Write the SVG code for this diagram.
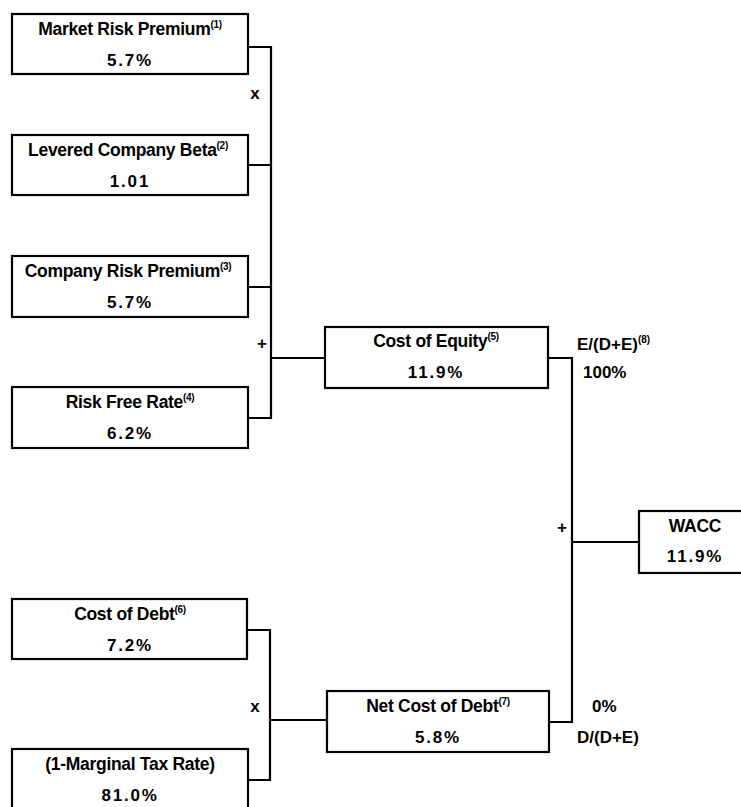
<svg xmlns="http://www.w3.org/2000/svg" width="741" height="807" viewBox="0 0 741 807">
<style>
.box{fill:#fff;stroke:#000;stroke-width:2.2}
.t{font-family:"Liberation Sans",Arial,sans-serif;font-weight:bold;font-size:17.5px;fill:#000;text-anchor:middle;letter-spacing:-0.3px}
.v{font-family:"Liberation Sans",Arial,sans-serif;font-weight:bold;font-size:17px;fill:#000;text-anchor:middle;letter-spacing:1.8px}
.s{font-size:10px}
.l{font-family:"Liberation Sans",Arial,sans-serif;font-weight:bold;font-size:17px;fill:#000}
.c{fill:none;stroke:#000;stroke-width:2.2}
</style>
<rect width="741" height="807" fill="#fff"/>
<g id="connectors">
<path class="c" d="M248,47 H271 V418 H248 M248,165 H271 M248,287 H271 M271,358 H325"/>
<path class="c" d="M548,358 H572 V722 H549 M572,542 H639"/>
<path class="c" d="M247,630 H270 V780 H248 M270,720 H327"/>
<text class="l" x="255" y="99" text-anchor="middle">x</text>
<text class="l" x="262" y="349" text-anchor="middle">+</text>
<text class="l" x="562" y="533" text-anchor="middle">+</text>
<text class="l" x="255" y="712" text-anchor="middle">x</text>
<text class="l" x="577" y="350">E/(D+E)<tspan class="s" dy="-7">(8)</tspan></text>
<text class="l" x="583" y="378">100%</text>
<text class="l" x="592" y="712">0%</text>
<text class="l" x="577" y="743">D/(D+E)</text>
</g>
<g id="market-risk-premium">
<rect class="box" x="12" y="14" width="236" height="60"/>
<text class="t" x="130" y="35">Market Risk Premium<tspan class="s" dy="-7">(1)</tspan></text>
<text class="v" x="130" y="66">5.7%</text>
</g>
<g id="levered-beta">
<rect class="box" x="12" y="135" width="236" height="60"/>
<text class="t" x="128" y="156">Levered Company Beta<tspan class="s" dy="-7">(2)</tspan></text>
<text class="v" x="130" y="187">1.01</text>
</g>
<g id="company-risk-premium">
<rect class="box" x="12" y="256" width="236" height="61"/>
<text class="t" x="128" y="277">Company Risk Premium<tspan class="s" dy="-7">(3)</tspan></text>
<text class="v" x="130" y="308">5.7%</text>
</g>
<g id="risk-free-rate">
<rect class="box" x="12" y="387" width="236" height="61"/>
<text class="t" x="130" y="408">Risk Free Rate<tspan class="s" dy="-7">(4)</tspan></text>
<text class="v" x="130" y="439">6.2%</text>
</g>
<g id="cost-of-equity">
<rect class="box" x="325" y="327" width="223" height="61"/>
<text class="t" x="436" y="347">Cost of Equity<tspan class="s" dy="-7">(5)</tspan></text>
<text class="v" x="436" y="378">11.9%</text>
</g>
<g id="wacc">
<rect class="box" x="639" y="511" width="120" height="62"/>
<text class="t" x="695" y="532">WACC</text>
<text class="v" x="695" y="562">11.9%</text>
</g>
<g id="cost-of-debt">
<rect class="box" x="12" y="599" width="235" height="60"/>
<text class="t" x="130" y="620">Cost of Debt<tspan class="s" dy="-7">(6)</tspan></text>
<text class="v" x="130" y="651">7.2%</text>
</g>
<g id="marginal-tax">
<rect class="box" x="12" y="749" width="236" height="80"/>
<text class="t" x="130" y="770">(1-Marginal Tax Rate)</text>
<text class="v" x="130" y="801">81.0%</text>
</g>
<g id="net-cost-of-debt">
<rect class="box" x="327" y="691" width="222" height="61"/>
<text class="t" x="438" y="712">Net Cost of Debt<tspan class="s" dy="-7">(7)</tspan></text>
<text class="v" x="438" y="743">5.8%</text>
</g>
</svg>
